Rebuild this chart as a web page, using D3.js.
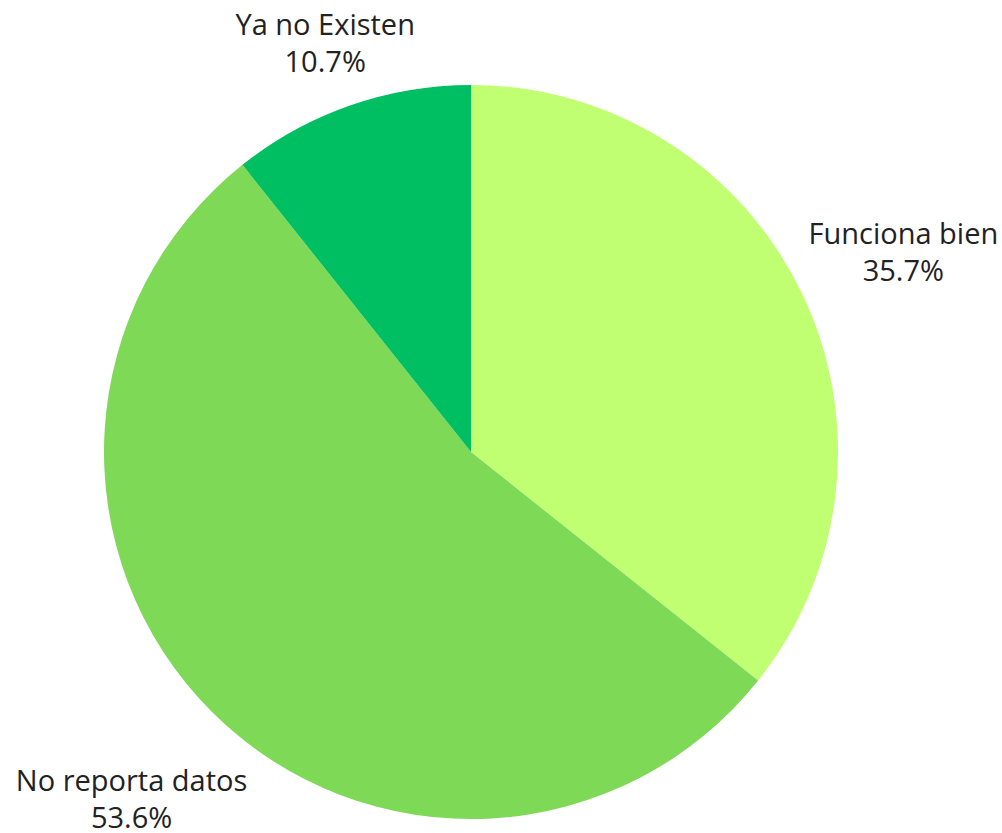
<!DOCTYPE html>
<html>
<head>
<meta charset="utf-8">
<script src="https://cdn.jsdelivr.net/npm/d3@7"></script>
<style>
  body { margin: 0; background: #fff; }
  text { font-family: "Open Sans", "Noto Sans", sans-serif; fill: #222; }
</style>
</head>
<body>
<div id="chart-area"></div>
<script>
// data
var categories = ["Funciona bien", "No reporta datos", "Ya no Existen"];
var values = [35.7, 53.6, 10.7];
var colors = ["#c1ff72", "#7ed957", "#00bf63"];

var width = 1002;
var height = 833;
var cx = 471, cy = 452;
var radius = 367;

var svg = d3.select("#chart-area")
    .append("svg")
    .attr("width", width)
    .attr("height", height);

var g = svg.append("g")
    .attr("transform", "translate(" + cx + "," + cy + ")");

var data = categories.map((c, i) => ({ name: c, value: values[i], color: colors[i] }));

var pie = d3.pie()
    .sort(null)
    .value(d => d.value);

var arc = d3.arc()
    .innerRadius(0)
    .outerRadius(radius);

var arcs = pie(data);

g.selectAll("path")
    .data(arcs)
    .enter()
    .append("path")
    .attr("d", arc)
    .attr("fill", d => d.data.color);

// labels sit outside the pie, small slice a bit closer
var labelR = d => d.data.value < 20 ? 442 : 480;

var labels = g.selectAll("text.label")
    .data(arcs)
    .enter()
    .append("text")
    .attr("class", "label")
    .attr("text-anchor", "middle")
    .attr("font-size", "29px")
    .attr("transform", d => {
        var a = (d.startAngle + d.endAngle) / 2;
        var r = labelR(d);
        return "translate(" + (r * Math.sin(a)) + "," + (-r * Math.cos(a)) + ")";
    });

labels.append("tspan")
    .attr("x", 0)
    .attr("y", 0)
    .text(d => d.data.name);

labels.append("tspan")
    .attr("x", 0)
    .attr("y", 37)
    .text(d => d.data.value.toFixed(1) + "%");
</script>
</body>
</html>
